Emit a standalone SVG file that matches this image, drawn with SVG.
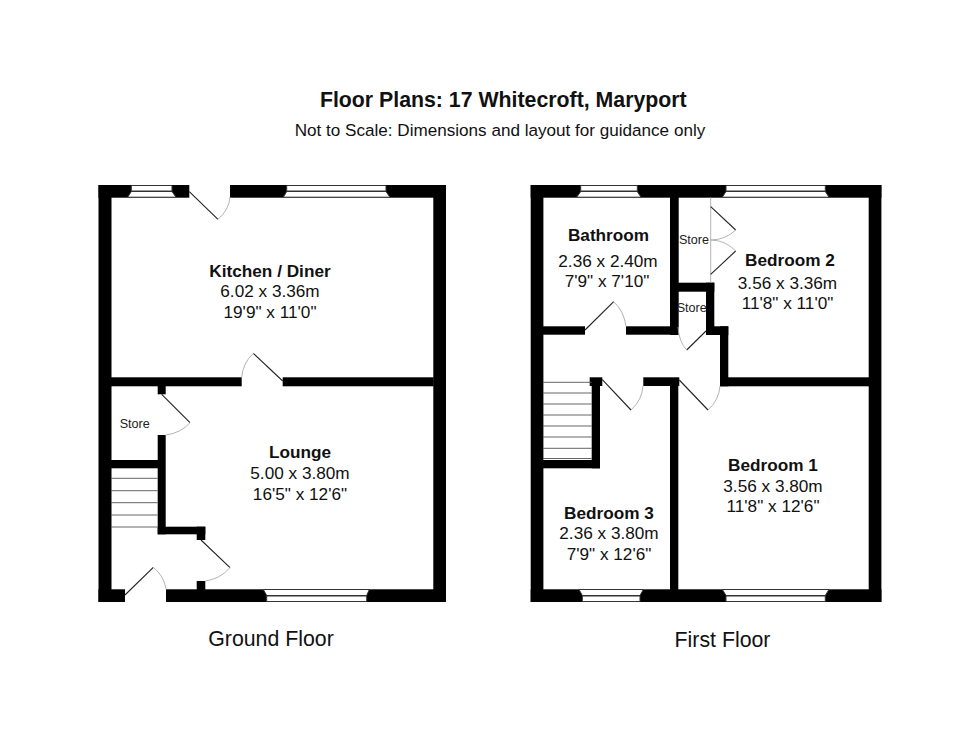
<svg xmlns="http://www.w3.org/2000/svg" width="980" height="755" viewBox="0 0 980 755">
<defs>
<style>
text{font-family:"Liberation Sans",Arial,sans-serif;fill:#111;text-anchor:middle}
.d{font-size:17.2px}
.b{font-size:17.2px;font-weight:bold}
.s{font-size:12.6px;fill:#222}
.f{font-size:21.3px}
.leaf{stroke:#222;stroke-width:1.1;fill:none}
.arc{stroke:#aaa;stroke-width:.9;fill:none}
.stair{stroke:#555;stroke-width:.9;fill:none}
.win{fill:#fff;stroke:#333;stroke-width:1}
</style>
</defs>
<rect width="980" height="755" fill="#fff"/>
<g id="titles">
<text x="503.3" y="107" font-size="21.3" font-weight="bold">Floor Plans: 17 Whitecroft, Maryport</text>
<text x="500" y="135.5" font-size="17.1">Not to Scale: Dimensions and layout for guidance only</text>
<text class="f" x="271" y="646">Ground Floor</text>
<text class="f" x="722.5" y="647">First Floor</text>
</g>
<g id="ground-floor-walls" fill="#000">
<rect x="98.5" y="185" width="13" height="417"/>
<rect x="433.3" y="185" width="12.7" height="417"/>
<rect x="98.5" y="185" width="90.8" height="12.7"/>
<rect x="230" y="185" width="216" height="12.7"/>
<rect x="98.5" y="589.3" width="26.5" height="12.7"/>
<rect x="166" y="589.3" width="280" height="12.7"/>
<rect x="111" y="377.3" width="130.7" height="9"/>
<rect x="282.7" y="377.3" width="151" height="9"/>
<rect x="157.7" y="386" width="8" height="8.3"/>
<rect x="157.7" y="435" width="8" height="99.3"/>
<rect x="111" y="460" width="47" height="8.3"/>
<rect x="157.7" y="526.7" width="47.6" height="7.6"/>
<rect x="196.7" y="526.7" width="8.6" height="13.3"/>
<rect x="196.7" y="581" width="8.6" height="9"/>
</g>
<g id="ground-floor-windows" class="win">
<path d="M131.3 185.5H172V191H131.3Z M127.7 197.2L131.3 191.5H172L176 197.2Z"/>
<path d="M286.7 185.5H386V191H286.7Z M283.3 197.2L286.7 191.5H386L390 197.2Z"/>
<path d="M263.3 589.5H369.3L366.7 595.5H266.7Z M266.7 596H366.7V601.5H266.7Z"/>
</g>
<g id="ground-floor-stairs" class="stair">
<path d="M111 478.3H157.7M111 490.7H157.7M111 502.7H157.7M111 515H157.7M111 527H157.7"/>
</g>
<g id="ground-floor-doors">
<path class="leaf" d="M189.3 191.7L218 219.3"/>
<path class="arc" d="M218 219.3Q229 210 230 197"/>
<path class="leaf" d="M282.7 381L253.3 353.3"/>
<path class="arc" d="M253.3 353.3Q243 363 241.7 377"/>
<path class="leaf" d="M161.7 394.3L190 422.7"/>
<path class="arc" d="M190 422.7Q181 433 165.7 435"/>
<path class="leaf" d="M201 540L230 567.7"/>
<path class="arc" d="M230 567.7Q220 579 205.3 581"/>
<path class="leaf" d="M125 595L153.3 567.3"/>
<path class="arc" d="M153.3 567.3Q164 576 166 589"/>
</g>
<g id="kitchen-diner">
<text class="b" x="270" y="277">Kitchen / Diner</text>
<text class="d" x="270" y="297">6.02 x 3.36m</text>
<text class="d" x="270" y="318">19'9" x 11'0"</text>
</g>
<g id="lounge">
<text class="b" x="300" y="458">Lounge</text>
<text class="d" x="300" y="479">5.00 x 3.80m</text>
<text class="d" x="300" y="500">16'5" x 12'6"</text>
</g>
<g id="store-ground"><text class="s" x="134.7" y="428">Store</text></g>
<g id="first-floor-walls" fill="#000">
<rect x="530.7" y="185" width="12.7" height="417"/>
<rect x="868.7" y="185" width="12.7" height="417"/>
<rect x="530.7" y="185" width="350.7" height="12.7"/>
<rect x="530.7" y="589.3" width="350.7" height="12.7"/>
<rect x="670" y="197" width="8.7" height="138"/>
<rect x="543" y="326.3" width="42" height="8.4"/>
<rect x="626" y="326.3" width="44.5" height="8.4"/>
<rect x="670" y="282.7" width="44.3" height="9"/>
<rect x="706" y="282.7" width="8.3" height="52.3"/>
<rect x="706" y="326.3" width="22.3" height="8.7"/>
<rect x="720" y="326.3" width="8.3" height="60"/>
<rect x="720" y="377.3" width="150" height="9"/>
<rect x="589.7" y="377.3" width="12.6" height="8.7"/>
<rect x="591.7" y="380" width="8.3" height="88.3"/>
<rect x="543" y="460" width="57" height="8.3"/>
<rect x="643.3" y="377.3" width="36" height="8.7"/>
<rect x="670" y="386" width="8.3" height="204"/>
</g>
<g id="first-floor-windows" class="win">
<path d="M580.7 185.5H637.3V191H580.7Z M576.7 197.2L580.7 191.5H637.3L641 197.2Z"/>
<path d="M726 185.5H825.3V191H726Z M722.3 197.2L726 191.5H825.3L829 197.2Z"/>
<path d="M579 589.5H643.3L640 595.5H582.3Z M582.3 596H640V601.5H582.3Z"/>
<path d="M722.3 589.5H829L825.3 595.5H726Z M726 596H825.3V601.5H726Z"/>
</g>
<g id="first-floor-stairs" class="stair">
<path d="M543 382.3H591.7M543 393H591.7M543 404H591.7M543 415H591.7M543 426H591.7M543 437H591.7M543 448.3H591.7M543 458.5H591.7"/>
</g>
<g id="first-floor-doors">
<path class="arc" d="M710.7 197.5V282.5"/>
<path class="leaf" d="M710.7 206.7L735.7 230"/>
<path class="arc" d="M735.7 230Q725 240 710.7 240"/>
<path class="leaf" d="M710.7 274.3L735.7 251"/>
<path class="arc" d="M735.7 251Q725 240 710.7 240"/>
<path class="leaf" d="M706 331L686.7 350"/>
<path class="arc" d="M686.7 350Q679 342 678 327"/>
<path class="leaf" d="M585 330L613.7 301.7"/>
<path class="arc" d="M613.7 301.7Q624 311 626 326.3"/>
<path class="leaf" d="M602.3 379.7L631 410"/>
<path class="arc" d="M631 410Q642 400 643 386"/>
<path class="leaf" d="M679.3 380L708 410"/>
<path class="arc" d="M708 410Q719 400 720 386"/>
</g>
<g id="bathroom">
<text class="b" x="608.5" y="240.5">Bathroom</text>
<text class="d" x="608" y="266.7">2.36 x 2.40m</text>
<text class="d" x="607" y="287.3">7'9" x 7'10"</text>
</g>
<g id="store-upper"><text class="s" x="694" y="244">Store</text></g>
<g id="store-lower"><text class="s" x="691.7" y="311.7">Store</text></g>
<g id="bedroom-2">
<text class="b" x="790" y="266.3">Bedroom 2</text>
<text class="d" x="787.5" y="289">3.56 x 3.36m</text>
<text class="d" x="787.5" y="309.3">11'8" x 11'0"</text>
</g>
<g id="bedroom-1">
<text class="b" x="773" y="470.7">Bedroom 1</text>
<text class="d" x="773" y="491.7">3.56 x 3.80m</text>
<text class="d" x="773" y="512.3">11'8" x 12'6"</text>
</g>
<g id="bedroom-3">
<text class="b" x="609" y="519.3">Bedroom 3</text>
<text class="d" x="609" y="539">2.36 x 3.80m</text>
<text class="d" x="609" y="560">7'9" x 12'6"</text>
</g>
</svg>
